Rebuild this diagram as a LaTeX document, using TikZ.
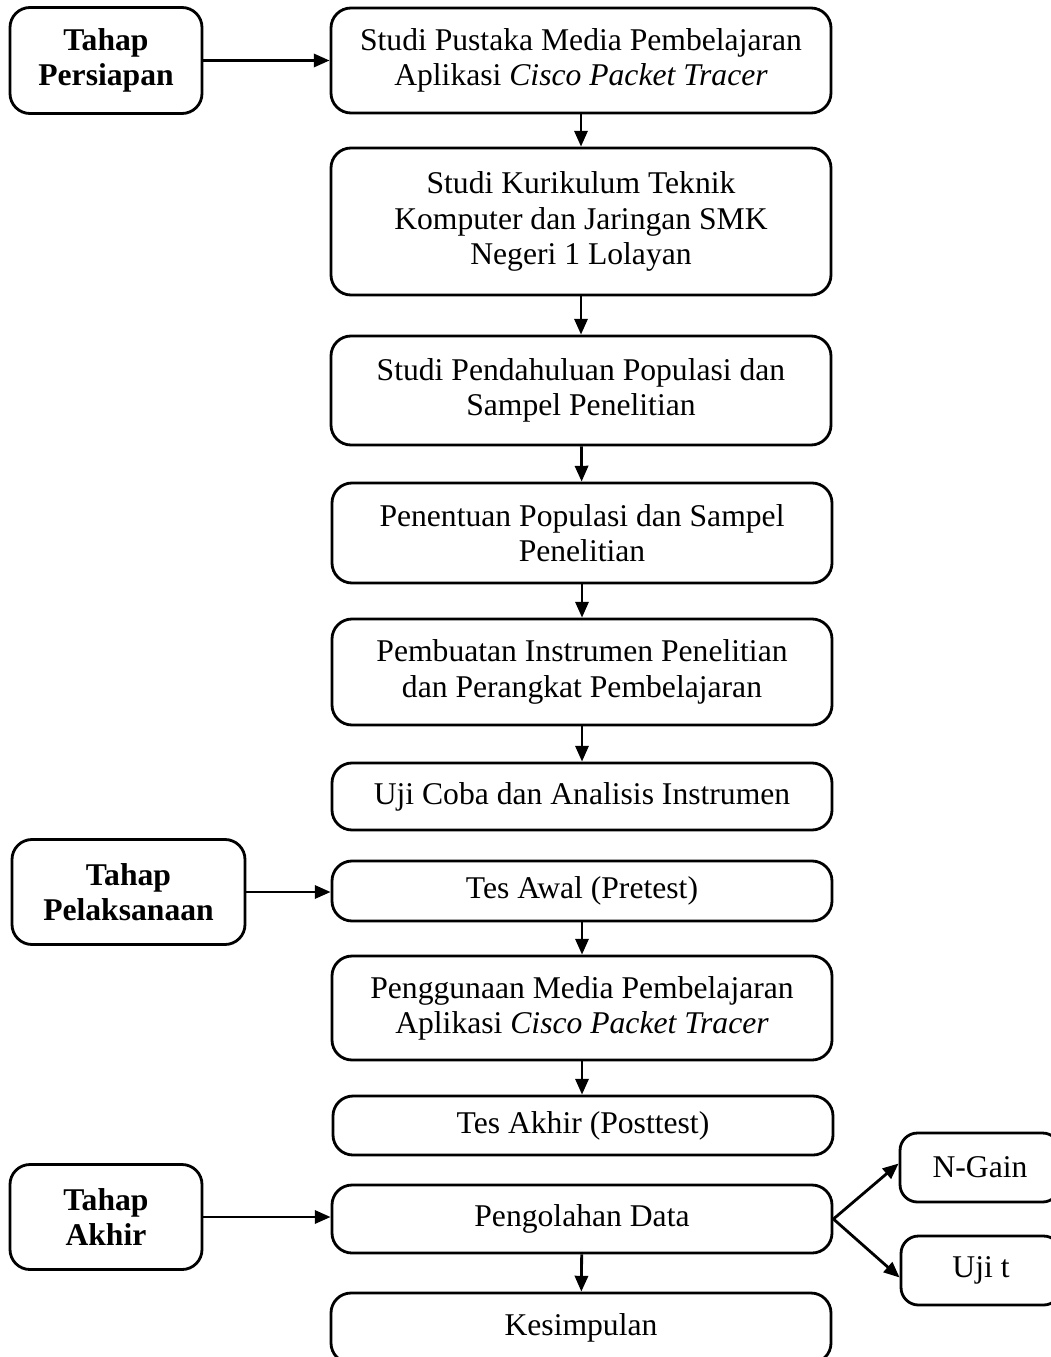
\documentclass[tikz,border=0pt]{standalone}
\usepackage{fontspec}
\setmainfont{Liberation Serif}
\usetikzlibrary{arrows.meta}

\begin{document}
\begin{tikzpicture}[->,>={Triangle[length=9pt,width=7.5pt]},line width=1.6pt,
  every node/.style={font=\fontsize{18}{20}\selectfont},
  main node/.style={draw,rounded corners=0.4cm,align=center,minimum width=10cm,inner sep=0pt},
  tahap node/.style={draw,rounded corners=0.4cm,align=center,font=\fontsize{18}{20}\selectfont\bfseries,inner sep=0pt},
  side node/.style={draw,rounded corners=0.35cm,align=center,minimum width=3.2cm,minimum height=1.38cm,inner sep=0pt}]

  \useasboundingbox (0,0) rectangle (21.02,-27.14);

  \node[main node,minimum height=2.1cm] (1) at (11.62,-1.21) {Studi Pustaka Media Pembelajaran\\Aplikasi \textit{Cisco Packet Tracer}};
  \node[main node,minimum height=2.94cm] (2) at (11.62,-4.43) {Studi Kurikulum Teknik\\Komputer dan Jaringan SMK\\Negeri 1 Lolayan};
  \node[main node,minimum height=2.18cm] (3) at (11.62,-7.81) {Studi Pendahuluan Populasi dan\\Sampel Penelitian};
  \node[main node,minimum height=2.0cm] (4) at (11.64,-10.66) {Penentuan Populasi dan Sampel\\Penelitian};
  \node[main node,minimum height=2.12cm] (5) at (11.64,-13.44) {Pembuatan Instrumen Penelitian\\dan Perangkat Pembelajaran};
  \node[main node,minimum height=1.34cm] (6) at (11.64,-15.93) {Uji Coba dan Analisis Instrumen};
  \node[main node,minimum height=1.2cm] (7) at (11.64,-17.82) {Tes Awal (Pretest)};
  \node[main node,minimum height=2.08cm] (8) at (11.64,-20.16) {Penggunaan Media Pembelajaran\\Aplikasi \textit{Cisco Packet Tracer}};
  \node[main node,minimum height=1.18cm] (9) at (11.66,-22.51) {Tes Akhir (Posttest)};
  \node[main node,minimum height=1.36cm] (10) at (11.64,-24.38) {Pengolahan Data};
  \node[main node,minimum height=1.4cm] (11) at (11.62,-26.56) {Kesimpulan};

  \node[tahap node,minimum width=3.84cm,minimum height=2.12cm] (persiapan) at (2.12,-1.21) {Tahap\\Persiapan};
  \node[tahap node,minimum width=4.66cm,minimum height=2.1cm] (pelaksanaan) at (2.57,-17.84) {Tahap\\Pelaksanaan};
  \node[tahap node,minimum width=3.84cm,minimum height=2.1cm] (akhir) at (2.12,-24.34) {Tahap\\Akhir};

  \node[side node] (ngain) at (19.6,-23.35) {N-Gain};
  \node[side node] (ujit) at (19.62,-25.41) {Uji t};

  \path
    (1) edge (2)
    (2) edge (3)
    (3) edge (4)
    (4) edge (5)
    (5) edge (6)
    (7) edge (8)
    (8.south) edge (8.south |- 9.north)
    (10) edge (11)
    (persiapan) edge (1)
    (pelaksanaan.east) edge (pelaksanaan.east -| 7.west)
    (akhir.east) edge (akhir.east -| 10.west)
    (10.east) edge ([yshift=0.08cm]ngain.west)
    (10.east) edge ([yshift=-0.14cm]ujit.west);
\end{tikzpicture}
\end{document}
